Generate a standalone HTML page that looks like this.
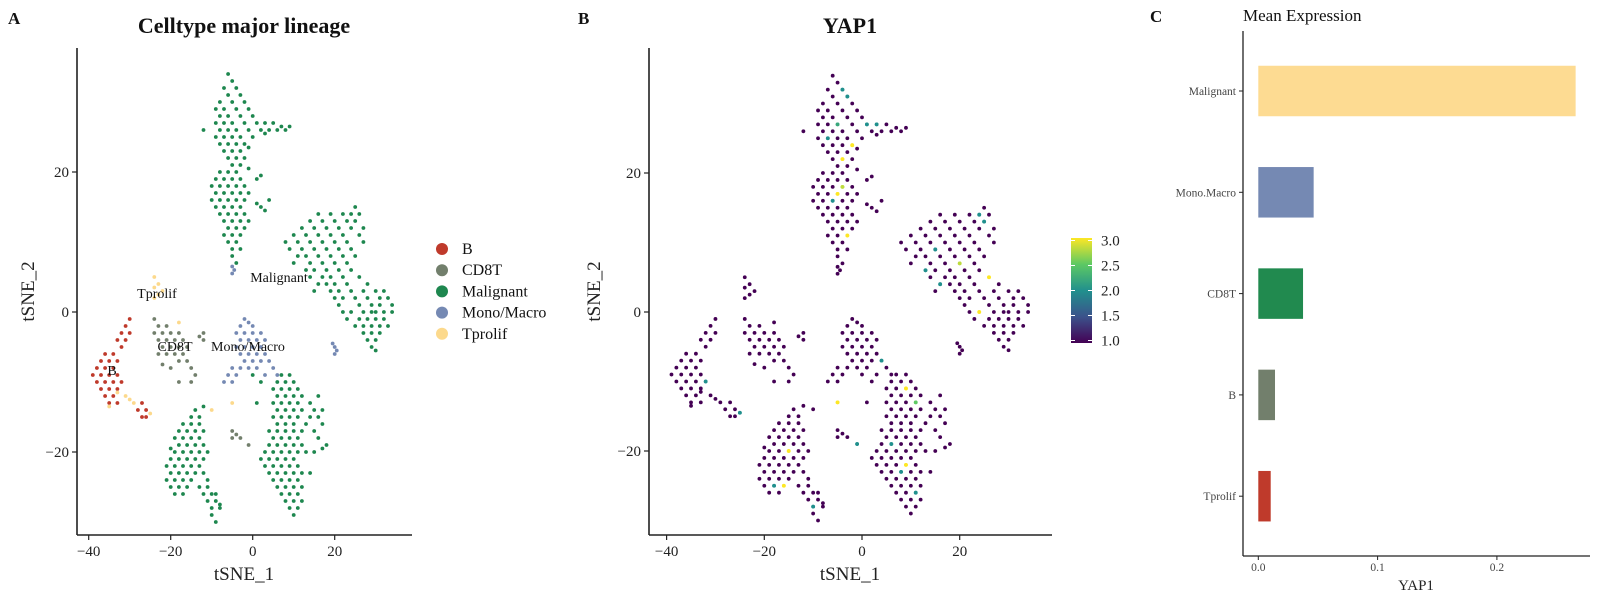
<!DOCTYPE html>
<html><head><meta charset="utf-8"><style>
html,body{margin:0;padding:0;background:#fff;}
svg{display:block;font-family:"Liberation Serif",serif;}
</style></head><body>
<svg id="fig" width="1599" height="600" viewBox="0 0 1599 600" xmlns="http://www.w3.org/2000/svg">
<g id="gA"></g>
<g id="gB"></g>
<g id="gC"></g>
</svg>
<script>
// ---- data ----
const cellTypes = ["B","CD8T","Malignant","Mono/Macro","Tprolif"];
const typeColors = ["#BF3A2B","#727F6C","#1E874F","#7589B3","#FCD98C"];
// tSNE points per type: [x, y, yap1 (optional, default 1)]
const ptsMalignant = [
[-6,34],[-5,33],[-7,32],[-4,32,2],[-3,31,2],[-6,31],[-8,30],[-5,30],[-2,30],[-9,29],[-7,29],[-4,29],[-1,29],[-8,28],[-6,28],[-3,28],[0,28],[-9,27],[-7,27],[-5,27,2.2],[-2,27],[1,27,2],[3,27,2],[5,27],[7,26.5],[9,26.5],[-8,26],[-6,26],[-4,26],[-1,26],[2,26],[4,26],[6,26],[8,26],[-9,25],[-7,25,2],[-5,25],[-3,25],[0,25],[3,25.5],[-8,24],[-6,24],[-4,24],[-2,24,3],[-7,23],[-5,23],[-3,23],[-1,23.5],[-6,22],[-4,22,3],[-2,22],[-12,26],[-5,21],[-3,21],[-1,20.5],
[-8,20],[-6,20],[-4,20],[-9,19],[-7,19],[-5,19],[-3,19],[-10,18],[-8,18],[-6,18],[-4,18,2.8],[-2,18],[-9,17],[-7,17],[-5,17,3],[-3,17],[-1,17],[-10,16],[-8,16],[-6,16,2],[-4,16],[-2,16],[-9,15],[-7,15],[-5,15],[-3,15],[-8,14],[-6,14],[-4,14],[-2,14],[-7,13],[-5,13],[-3,13],[-1,13],[-6,12],[-4,12],[-2,12],[-5,11],[-3,11,3],[-7,11],[-4,10],[-6,10],[-5,9],[-3,9],[-5,8],[-4,7],[1,19],[2,19.5],[1,15.5],[2,15],[3,14.5],[4,16],
[25,15],[24,14,2],[26,14],[22,14],[19,14],[16,14],[14,13],[17,13],[20,13],[23,13],[25,13,2],[27,12],[12,12],[15,12],[18,12],[21,12],[24,12],[26,11],[10,11],[13,11],[16,11],[19,11],[22,11],[8,10],[11,10],[14,10],[17,10],[20,10],[23,10],[27,10],[9,9],[12,9],[15,9,2],[18,9],[21,9],[24,9],[11,8],[13,8],[16,8],[19,8],[22,8],[25,8],[10,7],[14,7],[17,7],[20,7,2.8],[23,7],[13,6,2],[15,6],[18,6],[21,6],[24,6],[14,5],[17,5],[19,5],[22,5],[26,5,3],[16,4,2],[18,4],[20,4],[23,4],[28,4],[15,3],[19,3],[21,3],[24,3],[27,3],[30,3],[32,3],[20,2],[22,2],[25,2],[28,2],[31,2],[33,2],[21,1],[26,1],[29,1],[31,1],[34,1],[22,0],[24,0,3],[27,0],[29,0],[30,0],[32,0],[34,0],[23,-1],[26,-1],[28,-1],[30,-1],[32,-1],[25,-2],[27,-2],[29,-2],[31,-2],[33,-2],[27,-3],[29,-3],[31,-3],[28,-4],[30,-4],[29,-5],[30,-5.5],
[7,-9],[9,-9],[6,-10],[8,-10],[10,-10],[5,-11],[7,-11],[9,-11,3],[11,-11],[6,-12],[8,-12],[10,-12],[12,-12],[5,-13],[7,-13],[9,-13],[11,-13,2.5],[14,-13],[16,-12],[6,-14],[8,-14],[10,-14],[12,-14],[15,-14],[17,-14],[5,-15],[7,-15],[9,-15],[11,-15],[14,-15],[16,-15],[6,-16],[8,-16],[10,-16],[13,-16],[17,-16],[4,-17],[6,-17],[8,-17],[10,-17],[12,-17],[15,-17],[5,-18],[7,-18],[9,-18],[11,-18],[16,-18],[18,-19],[4,-19],[6,-19,2],[8,-19],[10,-19],[12,-19],[17,-19.5],[15,-20],[3,-20],[5,-20],[7,-20],[9,-20],[11,-20],[13,-20],[2,-21],[4,-21],[6,-21],[8,-21],[10,-21],[3,-22],[5,-22],[7,-22],[9,-22,3],[11,-22],[4,-23],[6,-23],[8,-23,2],[10,-23],[12,-23],[5,-24],[7,-24],[9,-24],[11,-24],[6,-25],[8,-25],[10,-25],[12,-25],[7,-26],[9,-26],[11,-26,2],[8,-27],[10,-27],[12,-27],[9,-28],[11,-28],[10,-29],[14,-23],[1,-13],[2,-10],[0,-9],
[-14,-14],[-15,-15],[-13,-15],[-17,-16],[-15,-16],[-13,-16],[-18,-17],[-16,-17],[-14,-17],[-12,-17],[-19,-18],[-17,-18],[-15,-18],[-13,-18],[-18,-19],[-16,-19],[-14,-19],[-12,-19],[-19,-20],[-17,-20],[-15,-20,3],[-13,-20],[-11,-20],[-20,-21],[-18,-21],[-16,-21],[-14,-21],[-12,-21],[-19,-22],[-17,-22],[-15,-22],[-13,-22],[-20,-23],[-18,-23],[-16,-23],[-14,-23],[-12,-23],[-21,-24],[-19,-24],[-17,-24],[-15,-24],[-20,-25],[-18,-25,2],[-16,-25,3],[-13,-25],[-11,-25],[-19,-26],[-17,-26],[-12,-26],[-10,-26],[-9,-26],[-11,-27],[-9,-27],[-10,-28,2],[-8,-28],[-10,-29],[-9,-30],[-11,-24],[-8,-27.5],[-12,-13.5],[-20,-19.5],[-21,-22]
];
const ptsMono = [
[-2,-1],[-1,-1.5],[-3,-2],[0,-2],[-2,-3],[0,-3],[2,-3],[-4,-3],[-3,-4],[-1,-4],[1,-4],[3,-4],[-2,-5],[0,-5],[2,-5],[-4,-5],[-3,-6],[-1,-6],[1,-6],[3,-6],[4,-7,2],[-2,-7],[0,-7],[2,-7],[-5,-8],[-1,-8],[1,-8],[5,-8],[-6,-9],[-4,-9],[-7,-10],[3,-9],[-5,-10],[-3,-8],[6,-9],
[-5,6.5],[-5,5.5],[-4.5,6],[20,-5],[20,-6],[20.5,-5.5],[19.5,-4.5]
];
const ptsCD8T = [
[-24,-1],[-23,-2],[-21,-2],[-24,-3],[-22,-3],[-20,-3],[-18,-3],[-23,-4],[-21,-4],[-19,-4],[-17,-4],[-22,-5],[-20,-5],[-18,-5],[-16,-5],[-21,-6],[-19,-6],[-17,-6],[-23,-6],[-18,-7],[-16,-7],[-22,-7.5],[-20,-8],[-12,-3],[-13,-3.5],[-12,-4],[-15,-8],[-14,-9],[-15,-10],[-18,-10],[-5,-17],[-4,-17.5],[-5,-18],[-3,-18],[-1,-19,2]
];
const ptsB = [
[-30,-1],[-31,-2],[-30,-3],[-32,-3],[-31,-4],[-33,-4],[-32,-5],[-34,-6],[-36,-6],[-37,-7],[-35,-7],[-33,-7],[-38,-8],[-36,-8],[-34,-8],[-39,-9],[-37,-9],[-35,-9],[-33,-9],[-38,-10],[-36,-10],[-34,-10],[-32,-10,2],[-37,-11],[-35,-11],[-33,-11],[-36,-12],[-34,-12],[-35,-13],[-33,-13],[-27,-13],[-26,-14],[-27,-15],[-26,-15],[-28,-14]
];
const ptsTprolif = [
[-24,5],[-23,4],[-24,3.5],[-23,2.5],[-24,2],[-22,3],[-33,-11.5],[-31,-12],[-30,-12.5],[-29,-13],[-35,-13.5],[-10,-14],[-18,-1.5],[-5,-13,3],[-25,-14.5,2]
];
const ptsByType = [ptsB, ptsCD8T, ptsMalignant, ptsMono, ptsTprolif];
const xTicks = [-40,-20,0,20];
const yTicks = [-20,0,20];
const colorTicks = [1.0,1.5,2.0,2.5,3.0];
// bar chart (panel C)
const barCats = ["Malignant","Mono.Macro","CD8T","B","Tprolif"];
const barVals = [0.266,0.0464,0.0375,0.014,0.0104];
const barColors = ["#FDDB92","#7589B3","#218A4F","#727F6C","#BF3A2B"];
const barTicks = [0.0,0.1,0.2];

const NS="http://www.w3.org/2000/svg";
function mk(parent,tag,attrs,text){const e=document.createElementNS(NS,tag);for(const k in attrs)e.setAttribute(k,attrs[k]);if(text!==undefined)e.textContent=text;parent.appendChild(e);return e;}

const vir=[[68,1,84],[59,82,139],[33,144,141],[93,201,99],[253,231,37]];
function viridis(v){let t=Math.max(0,Math.min(1,(v-1)/2))*4;const i=Math.min(3,Math.floor(t));const f=t-i;const a=vir[i],b=vir[i+1];return `rgb(${Math.round(a[0]+(b[0]-a[0])*f)},${Math.round(a[1]+(b[1]-a[1])*f)},${Math.round(a[2]+(b[2]-a[2])*f)})`;}

function drawTsne(g,cfg){
  const sx=v=>cfg.x0+cfg.kx*v, sy=v=>cfg.y0-cfg.ky*v;
  const ax=mk(g,"line",{x1:cfg.left,y1:cfg.top,x2:cfg.left,y2:cfg.bottom,stroke:"#222","stroke-width":1.6});
  
  const bx=mk(g,"line",{x1:cfg.left,y1:cfg.bottom,x2:cfg.right,y2:cfg.bottom,stroke:"#222","stroke-width":1.6});
  
  xTicks.forEach(t=>{
    const l=mk(g,"line",{x1:sx(t),y1:cfg.bottom,x2:sx(t),y2:cfg.bottom+5,stroke:"#222","stroke-width":1.2});
    
    const tx=mk(g,"text",{x:sx(t),y:cfg.bottom+21,"text-anchor":"middle","font-size":15,fill:"#222"},t<0?"\u2212"+(-t):String(t));
    
  });
  yTicks.forEach(t=>{
    const l=mk(g,"line",{x1:cfg.left-5,y1:sy(t),x2:cfg.left,y2:sy(t),stroke:"#222","stroke-width":1.2});
    
    const tx=mk(g,"text",{x:cfg.left-8,y:sy(t)+5,"text-anchor":"end","font-size":15,fill:"#222"},t<0?"\u2212"+(-t):String(t));
    
  });
  const xt=mk(g,"text",{x:cfg.titleX,y:580,"text-anchor":"middle","font-size":19,fill:"#222"},"tSNE_1");
  
  const yt=mk(g,"text",{x:0,y:0,"text-anchor":"middle","font-size":19,fill:"#222",transform:`translate(${cfg.ytX},${(cfg.top+cfg.bottom)/2}) rotate(-90)`},"tSNE_2");
  
  const pg=mk(g,"g",{});
  
  ptsByType.forEach((arr,ti)=>{
    arr.forEach(p=>{
      const e=p.length>2?p[2]:1;
      const c=mk(pg,"circle",{cx:sx(p[0]),cy:sy(p[1]),r:1.9,fill:cfg.expr?viridis(e):typeColors[ti]});
      
      
    });
  });
  if(cfg.expr){
    ptsByType.forEach(arr=>arr.forEach(p=>{ if(p.length>2){
      const c=mk(pg,"circle",{cx:sx(p[0]),cy:sy(p[1]),r:1.9,fill:viridis(p[2])});
      
      
    }}));
  }
}

// Panel A
const gA=document.getElementById("gA");
drawTsne(gA,{x0:252.7,kx:4.1,y0:312,ky:7,left:77,right:412,top:48,bottom:535,titleX:244,ytX:34});
(function(){
  const t=mk(gA,"text",{x:8,y:24,"font-size":17,"font-weight":"bold",fill:"#111"},"A");
  
  const ti=mk(gA,"text",{x:244,y:33,"text-anchor":"middle","font-size":22,"font-weight":"bold",fill:"#111"},"Celltype major lineage");
  
  const labs=[["Malignant",279,282],["Tprolif",157,298],["CD8T",175,351],["Mono/Macro",248,351],["B",112,375]];
  labs.forEach(l=>{
    const e=mk(gA,"text",{x:l[1],y:l[2],"text-anchor":"middle","font-size":14,fill:"#111"},l[0]);
    
  });
  cellTypes.forEach((c,i)=>{
    const y=249+i*21.2;
    const d=mk(gA,"circle",{cx:442,cy:y,r:6,fill:typeColors[i]});
    
    const t2=mk(gA,"text",{x:462,y:y+5,"font-size":16,fill:"#111"},c);
    
  });
})();

// Panel B
const gB=document.getElementById("gB");
drawTsne(gB,{x0:862,kx:4.885,y0:312,ky:6.95,left:649,right:1052,top:48,bottom:535,titleX:850,ytX:600,expr:true});
(function(){
  const t=mk(gB,"text",{x:578,y:24,"font-size":17,"font-weight":"bold",fill:"#111"},"B");
  
  const ti=mk(gB,"text",{x:850,y:33,"text-anchor":"middle","font-size":22,"font-weight":"bold",fill:"#111"},"YAP1");
  
  const defs=mk(gB,"defs",{});
  const lg=mk(defs,"linearGradient",{id:"virg",x1:0,y1:1,x2:0,y2:0});
  vir.forEach((c,i)=>mk(lg,"stop",{offset:i/4,"stop-color":`rgb(${c[0]},${c[1]},${c[2]})`}));
  const cbTop=238,cbBot=343,cbX=1071,cbW=21;
  const r=mk(gB,"rect",{x:cbX,y:cbTop,width:cbW,height:cbBot-cbTop,fill:"url(#virg)"});
  
  const cy=v=>cbBot-2.5-(v-1)/2*(cbBot-cbTop-5);
  colorTicks.forEach(v=>{
    mk(gB,"line",{x1:cbX,y1:cy(v),x2:cbX+4,y2:cy(v),stroke:"#fff","stroke-width":1});
    mk(gB,"line",{x1:cbX+cbW-4,y1:cy(v),x2:cbX+cbW,y2:cy(v),stroke:"#fff","stroke-width":1});
    const tx=mk(gB,"text",{x:1101,y:cy(v)+5,"font-size":15,fill:"#222"},v.toFixed(1));
    
  });
})();

// Panel C
(function(){
  const g=document.getElementById("gC");
  const x0=1258.3,kx=1193,left=1243,right=1590,top=31,bottom=556;
  const bx=v=>x0+kx*v;
  const catY=i=>91+i*101.3, bh=50.5;
  const t=mk(g,"text",{x:1150,y:22,"font-size":17,"font-weight":"bold",fill:"#111"},"C");
  
  const ti=mk(g,"text",{x:1243,y:21,"font-size":17,fill:"#111"},"Mean Expression");
  
  barCats.forEach((c,i)=>{
    const r=mk(g,"rect",{x:bx(0),y:catY(i)-bh/2,width:bx(barVals[i])-bx(0),height:bh,fill:barColors[i]});
    
    
    mk(g,"line",{x1:left-4,y1:catY(i),x2:left,y2:catY(i),stroke:"#222","stroke-width":1});
    const tx=mk(g,"text",{x:left-7,y:catY(i)+4,"text-anchor":"end","font-size":11.5,fill:"#444"},c);
    
  });
  const a1=mk(g,"line",{x1:left,y1:top,x2:left,y2:bottom,stroke:"#222","stroke-width":1.3});
  
  const a2=mk(g,"line",{x1:left,y1:bottom,x2:right,y2:bottom,stroke:"#222","stroke-width":1.3});
  
  barTicks.forEach(v=>{
    mk(g,"line",{x1:bx(v),y1:bottom,x2:bx(v),y2:bottom+4,stroke:"#222","stroke-width":1});
    const tx=mk(g,"text",{x:bx(v),y:bottom+15,"text-anchor":"middle","font-size":11.5,fill:"#444"},v.toFixed(1));
    
  });
  const xt=mk(g,"text",{x:1416,y:590,"text-anchor":"middle","font-size":15,fill:"#222"},"YAP1");
  
})();
</script>
</body></html>
